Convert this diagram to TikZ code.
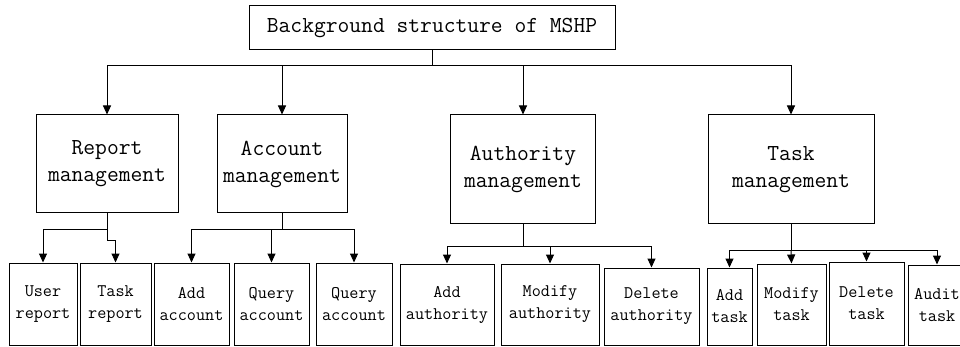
\documentclass[tikz,border=0pt]{standalone}
\usepackage{fontspec}
\usetikzlibrary{arrows.meta}
\tikzset{
  box/.style={draw=black, line width=1pt, inner sep=0pt, align=center, font=\ttfamily\fontsize{17.7}{22}\selectfont},
  bigbox/.style={box, font=\ttfamily\fontsize{22.9}{27}\selectfont},
  link/.style={line width=1pt},
  arr/.style={line width=1pt, -{Triangle[width=8pt,length=9pt]}}
}
\begin{document}
\begin{tikzpicture}[x=1pt,y=-1pt]
\useasboundingbox (0,0) rectangle (960,347);
\clip (0,0) rectangle (960,347);
\fill[white] (0,0) rectangle (960,347);
% top
\node[bigbox, minimum width=366pt, minimum height=44pt] (top) at (432,28) {Background structure of MSHP};
% second level
\node[bigbox, minimum width=142pt, minimum height=98pt] (rep) at (107,164) {Report\\management};
\node[bigbox, minimum width=130pt, minimum height=98pt] (acc) at (282,164) {Account\\management};
\node[bigbox, minimum width=145pt, minimum height=109pt] (auth) at (523,169.5) {Authority\\management};
\node[bigbox, minimum width=166pt, minimum height=109pt] (task) at (791,169.5) {Task\\management};
% third level
\node[box, minimum width=68pt, minimum height=82pt] (ur) at (43,304) {User\\report};
\node[box, minimum width=71pt, minimum height=82pt] (tr) at (115.5,304) {Task\\report};
\node[box, minimum width=75pt, minimum height=82pt] (aa) at (191.5,304) {Add\\account};
\node[box, minimum width=75pt, minimum height=82pt] (qa1) at (271.5,304) {Query\\account};
\node[box, minimum width=76pt, minimum height=82pt] (qa2) at (354,304) {Query\\account};
\node[box, minimum width=94pt, minimum height=81pt] (aau) at (447,304.5) {Add\\authority};
\node[box, minimum width=98pt, minimum height=81pt] (mau) at (550,304.5) {Modify\\authority};
\node[box, minimum width=95pt, minimum height=77pt] (dau) at (651.5,306.5) {Delete\\authority};
\node[box, minimum width=45pt, minimum height=77pt] (at) at (729.5,306.5) {Add\\task};
\node[box, minimum width=69pt, minimum height=81pt] (mt) at (791.5,304.5) {Modify\\task};
\node[box, minimum width=75pt, minimum height=83pt] (dt) at (866.5,303.5) {Delete\\task};
\node[box, minimum width=58pt, minimum height=80pt] (adt) at (937,305) {Audit\\task};
% junctions
\coordinate (j0) at (432,66);
\coordinate (j1) at (107,230);
\coordinate (j1b) at (107,241);
\coordinate (j2) at (282,230);
\coordinate (j3) at (523,246);
\coordinate (j4) at (791,250);
% top connectors
\draw[link] (top.south) -- (j0);
\draw[arr] (j0) -| (rep.north);
\draw[arr] (j0) -| (acc.north);
\draw[arr] (j0) -| (auth.north);
\draw[arr] (j0) -| (task.north);
% report
\draw[link] (rep.south) -- (j1b);
\draw[arr] (j1) -| (ur.north);
\draw[arr] (j1b) -| (tr.north);
% account
\draw[link] (acc.south) -- (j2);
\draw[arr] (j2) -| (aa.north);
\draw[arr] (j2) -| (qa1.north);
\draw[arr] (j2) -| (qa2.north);
% authority
\draw[link] (auth.south) -- (j3);
\draw[arr] (j3) -| (aau.north);
\draw[arr] (j3) -| (mau.north);
\draw[arr] (j3) -| (dau.north);
% task
\draw[link] (task.south) -- (j4);
\draw[arr] (j4) -| (at.north);
\draw[arr] (j4) -- (mt.north);
\draw[arr] (j4) -| (dt.north);
\draw[arr] (j4) -| (adt.north);
\end{tikzpicture}
\end{document}
